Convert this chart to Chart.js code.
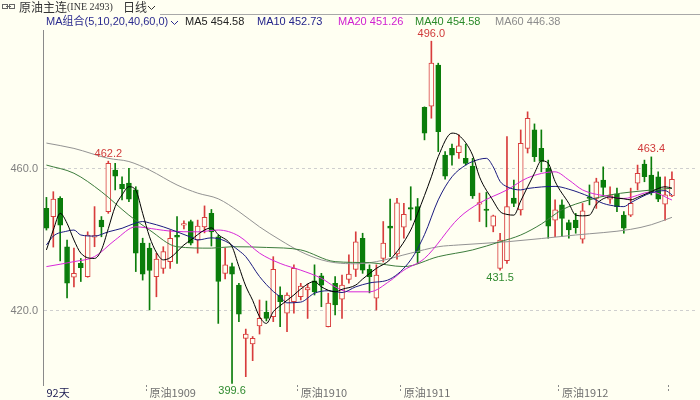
<!DOCTYPE html>
<html>
<head>
<meta charset="utf-8">
<script src="https://cdn.jsdelivr.net/npm/chart.js@4.4.0/dist/chart.umd.min.js"></script>
<style>
  html, body { margin: 0; padding: 0; background: #fffff2; }
  #wrap { width: 700px; height: 400px; }
</style>
</head>
<body>
<div id="wrap"><canvas id="kChart" width="700" height="400"></canvas></div>
<script>
// daily candles, oldest first (92 days)
const openPrices = [448.9, 446.6, 451.7, 438.1, 429.5, 433.4, 429.7, 440.8, 445.6, 448.0,
  459.7, 455.7, 456.0, 454.1, 439.1, 437.7, 429.7, 432.0, 433.9, 441.3,
  444.2, 445.2, 440.0, 443.7, 447.5, 440.9, 430.6, 432.5, 427.3, 412.3,
  410.7, 415.8, 419.6, 418.4, 424.5, 419.4, 422.6, 424.0, 425.9, 428.5,
  429.9, 415.6, 427.8, 423.3, 428.9, 431.7, 440.5, 431.7, 423.6, 434.8,
  443.9, 436.1, 443.6, 449.0, 449.4, 477.4, 477.7, 489.3, 463.9, 465.8,
  464.6, 463.0, 460.8, 450.1, 448.6, 443.9, 432.0, 434.2, 451.8, 448.5,
  465.8, 471.0, 465.8, 460.2, 445.6, 449.9, 444.9, 445.6, 440.2, 451.9,
  451.7, 456.9, 451.5, 453.0, 447.0, 447.0, 456.0, 461.4, 458.3, 457.8,
  450.1, 452.4];
const highPrices = [452.0, 453.6, 452.2, 440.0, 437.7, 434.8, 442.3, 449.4, 446.6, 462.2,
  461.6, 457.8, 460.2, 455.0, 440.5, 439.1, 436.3, 438.1, 442.8, 446.6,
  445.4, 445.6, 445.6, 449.6, 448.6, 441.4, 437.7, 433.5, 427.8, 414.9,
  412.8, 423.1, 422.8, 435.3, 426.8, 425.1, 433.0, 427.8, 427.6, 433.0,
  430.6, 425.0, 429.7, 430.1, 435.8, 442.3, 441.9, 433.0, 433.0, 445.2,
  451.5, 451.7, 450.3, 455.0, 451.7, 477.5, 496.0, 489.8, 464.9, 467.0,
  469.6, 467.0, 463.0, 453.2, 453.4, 447.0, 441.9, 469.1, 456.9, 471.0,
  476.1, 472.7, 471.0, 462.5, 451.3, 451.3, 445.6, 447.5, 450.3, 455.5,
  457.4, 460.6, 455.0, 454.6, 448.0, 454.6, 461.1, 462.5, 463.4, 459.2,
  457.8, 459.2];
const lowPrices = [442.8, 438.0, 434.1, 423.7, 426.8, 428.3, 429.5, 438.1, 440.9, 447.5,
  454.1, 451.3, 450.8, 431.1, 428.7, 420.3, 424.0, 430.6, 432.0, 433.4,
  443.1, 438.6, 436.3, 442.0, 438.3, 416.5, 429.0, 399.6, 417.0, 401.5,
  406.0, 413.5, 417.2, 417.0, 415.6, 414.2, 419.4, 423.1, 417.9, 424.5,
  421.2, 415.5, 418.9, 417.9, 427.8, 429.7, 430.6, 425.1, 420.3, 433.8,
  435.3, 434.6, 440.5, 445.6, 433.4, 468.2, 474.3, 464.9, 457.1, 461.1,
  463.0, 461.1, 451.7, 445.2, 443.7, 442.3, 431.5, 433.4, 449.4, 447.0,
  464.5, 462.1, 459.2, 440.5, 440.9, 440.9, 440.5, 441.9, 439.1, 449.9,
  448.9, 452.2, 450.3, 448.0, 441.9, 446.6, 454.1, 456.4, 452.7, 450.8,
  445.6, 452.2];
const closePrices = [443.3, 451.5, 444.2, 427.8, 430.6, 432.2, 441.4, 441.1, 443.7, 461.6,
  458.0, 454.4, 451.5, 436.3, 430.4, 431.4, 434.6, 436.7, 440.5, 440.8,
  444.4, 439.1, 443.9, 446.4, 442.3, 428.3, 433.0, 430.4, 419.1, 413.5,
  412.3, 417.9, 417.9, 431.7, 422.6, 424.5, 432.0, 427.0, 426.6, 425.4,
  427.3, 422.2, 421.7, 427.3, 430.4, 439.5, 431.5, 429.7, 430.1, 439.1,
  443.3, 450.5, 447.2, 448.7, 436.4, 470.1, 489.8, 470.5, 458.0, 463.9,
  466.5, 461.6, 452.4, 450.5, 448.3, 446.8, 440.0, 449.4, 450.3, 467.2,
  474.3, 463.5, 462.1, 443.9, 448.5, 446.1, 442.8, 443.5, 448.2, 451.7,
  456.4, 454.8, 452.5, 449.4, 443.3, 450.3, 458.8, 457.8, 453.6, 451.5,
  452.7, 457.1];

// moving averages: [day index, value]
const ma5Pts = [[0, 437.2], [1, 442.8], [2, 447.5], [3, 444.7], [4, 440.0], [5, 436.3], [7, 434.8], [8, 437.2],
  [9, 443.2], [10, 449.4], [11, 452.7], [12, 455.0], [13, 454.0], [14, 447.5], [15, 440.9], [16, 436.5],
  [17, 434.4], [18, 435.0], [20, 438.6], [21, 440.0], [23, 442.8], [24, 443.4], [25, 441.5], [27, 438.1],
  [28, 432.5], [29, 427.0], [30, 423.0], [31, 418.4], [32, 416.5], [33, 419.8], [34, 421.5], [35, 423.0],
  [36, 424.5], [37, 426.2], [39, 428.3], [40, 426.8], [42, 425.4], [43, 426.1], [45, 427.3], [46, 429.0],
  [48, 432.0], [50, 434.5], [53, 442.8], [54, 447.5], [56, 457.8], [57, 463.5], [59, 470.1], [60, 469.5],
  [62, 463.9], [63, 457.8], [65, 451.0], [66, 448.0], [67, 447.2], [68, 447.0], [69, 451.0], [71, 458.8],
  [72, 462.3], [73, 461.6], [74, 456.5], [76, 450.3], [77, 447.0], [78, 446.8], [79, 447.0], [80, 450.1],
  [82, 452.1], [83, 451.8], [84, 451.6], [85, 451.3], [86, 452.0], [88, 453.6], [90, 455.0], [91, 454.58]];
const ma10Pts = [[0, 438.6], [1, 441.1], [3, 442.5], [4, 442.8], [5, 441.4], [7, 441.1], [9, 442.3], [11, 443.3],
  [13, 444.8], [14, 445.2], [15, 444.8], [17, 443.7], [19, 442.3], [21, 440.8], [22, 440.0], [24, 440.6],
  [26, 439.7], [28, 437.0], [29, 435.3], [31, 429.7], [33, 425.5], [34, 424.0], [35, 422.3], [37, 422.5],
  [39, 425.0], [41, 425.7], [43, 425.2], [45, 426.8], [47, 427.9], [50, 429.0], [53, 434.4], [55, 441.5],
  [57, 451.3], [59, 457.8], [61, 461.1], [62, 462.1], [64, 463.0], [65, 460.6], [66, 456.5], [67, 455.0],
  [68, 454.3], [69, 454.1], [70, 454.5], [74, 455.1], [76, 454.3], [79, 452.2], [81, 450.3], [83, 449.5],
  [84, 449.4], [85, 450.5], [88, 453.3], [90, 453.9], [91, 452.73]];
const ma20Pts = [[0, 432.5], [4, 433.9], [7, 435.3], [10, 440.0], [13, 443.7], [16, 443.0], [18, 442.5],
  [22, 442.3], [25, 442.8], [28, 441.1], [31, 436.3], [34, 433.4], [37, 431.5], [40, 429.2], [42, 426.8],
  [44, 425.4], [47, 425.4], [50, 428.5], [52, 431.5], [55, 434.8], [60, 446.2], [63, 450.4], [67, 454.1],
  [70, 457.5], [74, 459.2], [76, 456.9], [78, 454.1], [82, 452.2], [84, 451.7], [88, 453.5], [91, 451.26]];
const ma40Pts = [[0, 461.1], [4, 458.8], [8, 453.6], [12, 447.0], [15, 442.8], [19, 438.1], [24, 437.7],
  [27, 438.1], [32, 437.9], [37, 437.2], [42, 433.9], [47, 433.6], [52, 432.5], [57, 435.3], [62, 437.2],
  [66, 439.5], [69, 441.4], [72, 444.5], [75, 448.5], [79, 451.3], [82, 452.7], [85, 453.5], [91, 454.58]];
const ma60Pts = [[0, 467.3], [4, 465.8], [9, 463.0], [12, 462.1], [15, 459.7], [19, 455.5], [22, 453.2],
  [25, 451.6], [28, 448.0], [31, 443.7], [34, 440.0], [37, 436.7], [40, 434.4], [42, 433.6], [45, 433.3],
  [48, 433.9], [53, 436.3], [57, 438.1], [60, 438.6], [67, 439.5], [77, 441.4], [85, 443.0], [88, 444.3],
  [91, 446.38]];

// axis
const slotCount = 95;
const xTickIdx = [0, 15, 37, 52, 75, 91];
const xTickText = ['92天', '原油1909', '原油1910', '原油1911', '原油1912', ''];
const yTicks = [420, 460];

// marked extremes: [day index, price]
const highMarks = [[9, 462.2], [56, 496.0], [88, 463.4]];
const lowMarks = [[27, 399.6], [66, 431.5]];

const BG = '#fffff2';
const UP = '#d83c3c';
const DOWN = '#0b7d0b';

const labels = Array.from({ length: slotCount }, (_, i) => {
  const k = xTickIdx.indexOf(i);
  return k >= 0 ? xTickText[k] : '';
});
const isUp = closePrices.map((c, i) => c >= openPrices[i]);

function maSeries(pts) {
  const arr = new Array(slotCount).fill(null);
  pts.forEach(([i, v]) => { arr[i] = v; });
  return arr;
}

const maDefs = [
  { name: 'MA5', pts: ma5Pts, color: '#000000', legend: '#222222', lx: 185 },
  { name: 'MA10', pts: ma10Pts, color: '#1c1c80', legend: '#23238a', lx: 257 },
  { name: 'MA20', pts: ma20Pts, color: '#d828d8', legend: '#d020d0', lx: 338 },
  { name: 'MA40', pts: ma40Pts, color: '#3c7c3c', legend: '#2a8a2a', lx: 415 },
  { name: 'MA60', pts: ma60Pts, color: '#939393', legend: '#8c8c8c', lx: 495 }
];

function chevron(ctx, x, y, color) {
  ctx.strokeStyle = color;
  ctx.lineWidth = 1;
  ctx.beginPath();
  ctx.moveTo(x, y - 2);
  ctx.lineTo(x + 3.5, y + 1.5);
  ctx.lineTo(x + 7, y - 2);
  ctx.stroke();
}

const backdrop = {
  id: 'backdrop',
  beforeDraw(chart) {
    const ctx = chart.ctx;
    ctx.save();
    ctx.fillStyle = BG;
    ctx.fillRect(0, 0, chart.width, chart.height);
    ctx.restore();
  }
};

// high / low price tags
const marks = {
  id: 'marks',
  afterDatasetsDraw(chart) {
    const { ctx, scales: { x, y } } = chart;
    ctx.save();
    ctx.font = '11px "Liberation Sans", Arial, sans-serif';
    ctx.textAlign = 'center';
    ctx.textBaseline = 'bottom';
    ctx.fillStyle = '#d03a3a';
    highMarks.forEach(([i, v]) => ctx.fillText(v.toFixed(1), x.getPixelForValue(i), y.getPixelForValue(v) - 2));
    ctx.textBaseline = 'top';
    ctx.fillStyle = '#2f8a2f';
    lowMarks.forEach(([i, v]) => ctx.fillText(v.toFixed(1), x.getPixelForValue(i), y.getPixelForValue(v) + 2));
    ctx.restore();
  }
};

// title bar and MA legend row
const header = {
  id: 'header',
  afterDraw(chart) {
    const ctx = chart.ctx;
    ctx.save();
    ctx.strokeStyle = '#666';
    ctx.lineWidth = 1;
    ctx.strokeRect(2.5, 4.5, 5, 4);
    ctx.strokeRect(9.5, 4.5, 5, 4);
    ctx.beginPath(); ctx.moveTo(6, 6.5); ctx.lineTo(11, 6.5); ctx.stroke();

    ctx.textBaseline = 'middle';
    ctx.textAlign = 'left';
    ctx.fillStyle = '#333';
    ctx.font = '12px "Noto Sans CJK SC", sans-serif';
    ctx.fillText('原油主连', 19, 7);
    ctx.font = '10px "Liberation Serif", serif';
    ctx.fillText('(INE 2493)', 67, 7);
    ctx.font = '12px "Noto Sans CJK SC", sans-serif';
    ctx.fillText('日线', 123, 7);
    chevron(ctx, 148, 8, '#333');

    ctx.strokeStyle = '#a8a8a8';
    ctx.beginPath(); ctx.moveTo(160, 14.5); ctx.lineTo(700, 14.5); ctx.stroke();

    ctx.font = '11px "Liberation Sans", "Noto Sans CJK SC", sans-serif';
    ctx.fillStyle = '#2b2b8f';
    ctx.fillText('MA组合(5,10,20,40,60,0)', 46, 22);
    chevron(ctx, 171, 23, '#2b2b8f');
    maDefs.forEach(m => {
      const last = m.pts[m.pts.length - 1][1];
      ctx.fillStyle = m.legend;
      ctx.fillText(m.name + ' ' + last.toFixed(2), m.lx, 22);
    });
    ctx.restore();
  }
};

const datasets = [
  {
    type: 'bar',
    data: lowPrices.map((l, i) => [l, highPrices[i]]),
    backgroundColor: isUp.map(u => u ? UP : DOWN),
    borderWidth: 0,
    barThickness: 1,
    grouped: false,
    order: 3
  },
  {
    type: 'bar',
    data: openPrices.map((o, i) => [o, closePrices[i]]),
    backgroundColor: isUp.map(u => u ? BG : DOWN),
    borderColor: isUp.map(u => u ? UP : DOWN),
    borderWidth: 1,
    borderSkipped: false,
    barThickness: 5,
    minBarLength: 1.5,
    grouped: false,
    order: 2
  }
].concat(maDefs.map(m => ({
  type: 'line',
  data: maSeries(m.pts),
  borderColor: m.color,
  borderWidth: 1,
  pointRadius: 0,
  spanGaps: true,
  cubicInterpolationMode: 'monotone',
  order: 1
})));

new Chart(document.getElementById('kChart'), {
  type: 'bar',
  data: { labels, datasets },
  options: {
    responsive: false,
    devicePixelRatio: 1,
    animation: false,
    layout: { padding: { top: 30, right: 4, bottom: 0, left: 0 } },
    plugins: { legend: { display: false }, tooltip: { enabled: false } },
    scales: {
      x: {
        afterFit: s => { s.height = 15; },
        border: { display: false },
        grid: {
          drawOnChartArea: false,
          drawTicks: true,
          tickLength: 8,
          tickBorderDash: [2, 2],
          tickColor: c => (c.index > 0 && xTickIdx.includes(c.index)) ? '#8a8a8a' : 'rgba(0,0,0,0)'
        },
        ticks: {
          autoSkip: false,
          maxRotation: 0,
          align: 'start',
          padding: -7,
          color: c => c.index === 0 ? '#1a1a50' : '#707070',
          font: { family: '"Noto Sans CJK SC", sans-serif', size: 11 }
        }
      },
      y: {
        min: 399.15,
        max: 499.15,
        afterFit: s => { s.width = 43; },
        afterBuildTicks: s => { s.ticks = yTicks.map(v => ({ value: v })); },
        border: { display: true, color: '#8a8a8a', width: 1, dash: [3, 3] },
        grid: { color: '#cfcfcf', drawTicks: false },
        ticks: {
          padding: 5,
          color: '#808080',
          font: { family: '"Liberation Sans", Arial, sans-serif', size: 11 },
          callback: v => Number(v).toFixed(1)
        }
      }
    }
  },
  plugins: [backdrop, marks, header]
});
</script>
</body>
</html>
